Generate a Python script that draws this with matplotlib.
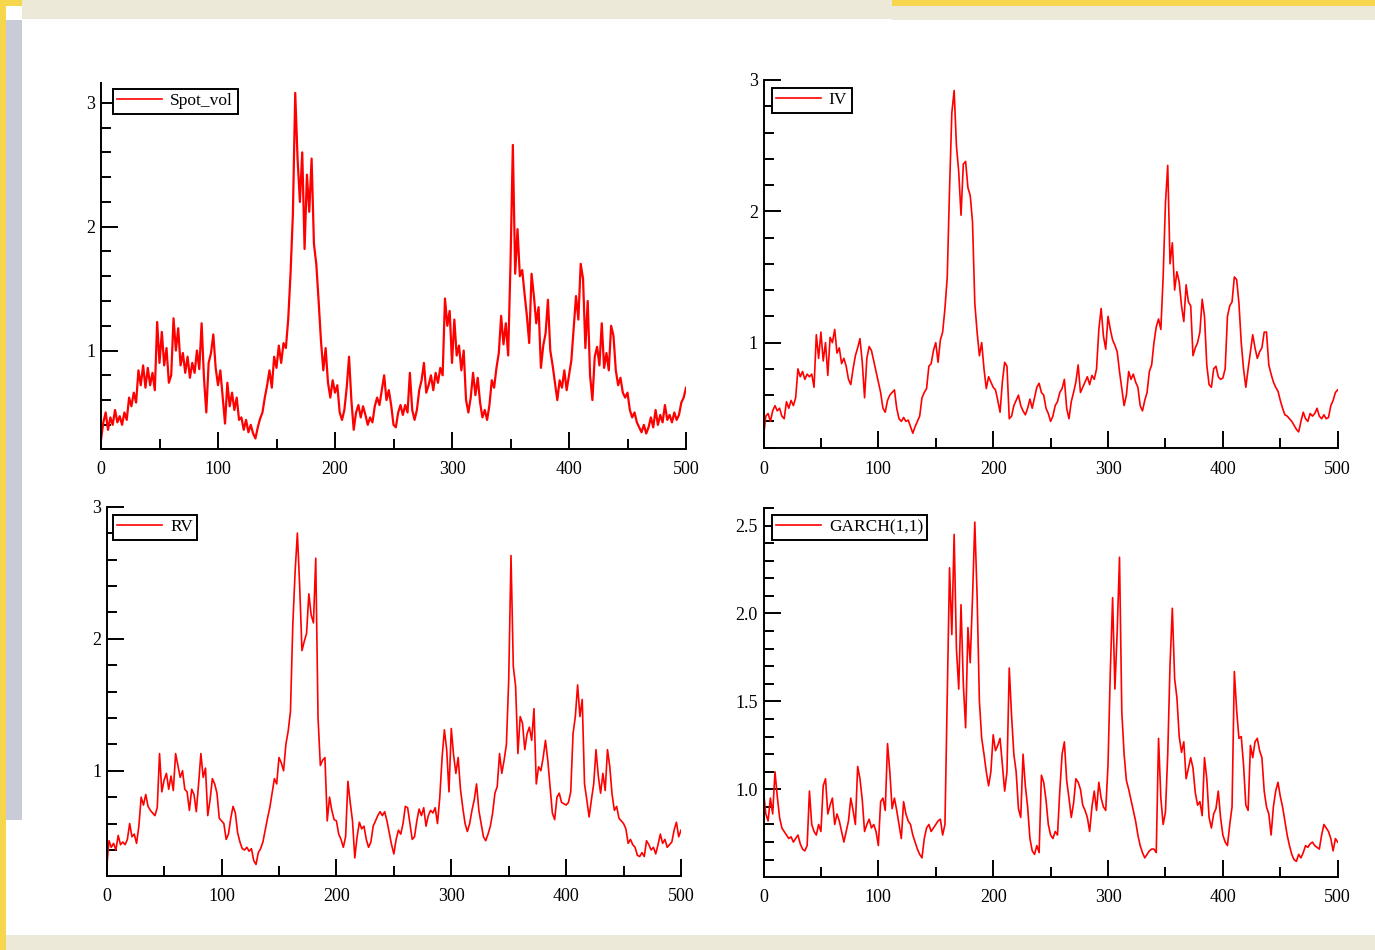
import matplotlib.pyplot as plt
from matplotlib.patches import Rectangle
from matplotlib.ticker import MultipleLocator, FormatStrFormatter

# observation index (every 2nd observation)
obs = list(range(0, 501, 2))

spot_vol = [
    0.28, 0.42, 0.50, 0.36, 0.46, 0.40, 0.52, 0.42, 0.47, 0.40,
    0.50, 0.44, 0.62, 0.55, 0.66, 0.58, 0.84, 0.72, 0.88, 0.70,
    0.86, 0.72, 0.82, 0.68, 1.23, 0.90, 1.15, 0.88, 1.02, 0.74,
    0.80, 1.26, 1.00, 1.18, 0.88, 0.98, 0.82, 0.95, 0.78, 0.90,
    0.82, 1.00, 0.85, 1.22, 0.78, 0.50, 0.90, 0.98, 1.13, 0.86,
    0.72, 0.84, 0.62, 0.41, 0.74, 0.55, 0.66, 0.52, 0.62, 0.44,
    0.46, 0.36, 0.44, 0.34, 0.40, 0.33, 0.29, 0.38, 0.45, 0.50,
    0.62, 0.72, 0.84, 0.70, 0.95, 0.86, 1.04, 0.90, 1.06, 1.02,
    1.25, 1.62, 2.10, 3.08, 2.55, 2.20, 2.60, 1.82, 2.42, 2.12,
    2.55, 1.86, 1.70, 1.40, 1.08, 0.84, 1.02, 0.74, 0.62, 0.76,
    0.66, 0.72, 0.50, 0.44, 0.52, 0.70, 0.95, 0.60, 0.36, 0.50,
    0.56, 0.46, 0.55, 0.48, 0.40, 0.46, 0.42, 0.55, 0.62, 0.56,
    0.68, 0.80, 0.60, 0.68, 0.56, 0.40, 0.38, 0.50, 0.56, 0.48,
    0.56, 0.50, 0.82, 0.52, 0.44, 0.52, 0.68, 0.76, 0.90, 0.66,
    0.72, 0.80, 0.68, 0.82, 0.74, 0.86, 0.80, 1.42, 1.20, 1.32,
    0.90, 1.25, 0.96, 1.04, 0.84, 1.00, 0.60, 0.50, 0.62, 0.82,
    0.64, 0.78, 0.58, 0.46, 0.52, 0.44, 0.56, 0.76, 0.70, 0.86,
    0.98, 1.28, 1.05, 1.22, 0.96, 1.70, 2.66, 1.62, 1.98, 1.60,
    1.65, 1.46, 1.28, 1.06, 1.62, 1.44, 1.22, 1.35, 0.86, 1.04,
    1.14, 1.41, 1.00, 0.88, 0.74, 0.60, 0.76, 0.70, 0.84, 0.68,
    0.80, 0.92, 1.18, 1.44, 1.25, 1.70, 1.58, 1.02, 1.40, 0.80,
    0.60, 0.95, 1.03, 0.88, 1.22, 0.86, 0.98, 0.84, 1.20, 1.12,
    0.84, 0.72, 0.78, 0.66, 0.62, 0.66, 0.52, 0.46, 0.50, 0.42,
    0.38, 0.34, 0.40, 0.33, 0.38, 0.46, 0.38, 0.52, 0.40, 0.48,
    0.42, 0.56, 0.44, 0.48, 0.42, 0.50, 0.44, 0.48, 0.58, 0.62,
    0.70,
]

iv = [
    0.28, 0.44, 0.46, 0.40, 0.48, 0.52, 0.48, 0.50, 0.44, 0.42,
    0.55, 0.50, 0.56, 0.52, 0.58, 0.80, 0.74, 0.78, 0.72, 0.76,
    0.74, 0.76, 0.66, 1.06, 0.88, 1.08, 0.86, 1.00, 0.75, 1.04,
    1.00, 1.10, 0.92, 0.96, 0.84, 0.88, 0.82, 0.72, 0.68, 0.80,
    0.90, 0.96, 1.03, 0.85, 0.58, 0.88, 0.97, 0.94, 0.86, 0.78,
    0.70, 0.62, 0.50, 0.47, 0.56, 0.60, 0.62, 0.64, 0.50, 0.42,
    0.40, 0.43, 0.40, 0.41, 0.36, 0.31, 0.36, 0.40, 0.44, 0.58,
    0.62, 0.65, 0.82, 0.84, 0.94, 1.00, 0.85, 1.02, 1.08, 1.26,
    1.50, 2.17, 2.75, 2.92, 2.50, 2.30, 1.97, 2.36, 2.38, 2.18,
    2.12, 1.92, 1.30, 1.08, 0.90, 1.00, 0.80, 0.65, 0.74, 0.70,
    0.66, 0.64, 0.56, 0.47, 0.70, 0.85, 0.82, 0.42, 0.44, 0.52,
    0.56, 0.60, 0.52, 0.48, 0.45, 0.50, 0.57, 0.50, 0.58, 0.66,
    0.69, 0.62, 0.60, 0.50, 0.46, 0.40, 0.44, 0.52, 0.55, 0.62,
    0.65, 0.72, 0.50, 0.42, 0.55, 0.62, 0.70, 0.83, 0.62, 0.66,
    0.70, 0.74, 0.68, 0.75, 0.72, 0.80, 1.10, 1.26, 1.05, 0.95,
    1.20, 1.10, 1.02, 0.98, 0.93, 0.78, 0.65, 0.52, 0.60, 0.78,
    0.72, 0.76, 0.70, 0.66, 0.52, 0.48, 0.56, 0.62, 0.78, 0.83,
    1.00, 1.12, 1.18, 1.10, 1.50, 2.06, 2.35, 1.60, 1.76, 1.40,
    1.54, 1.46, 1.28, 1.16, 1.44, 1.31, 1.28, 0.90, 0.96, 1.00,
    1.08, 1.33, 1.20, 0.83, 0.68, 0.66, 0.80, 0.82, 0.74, 0.72,
    0.73, 0.80, 1.20, 1.28, 1.31, 1.50, 1.48, 1.30, 1.00, 0.80,
    0.66, 0.80, 0.93, 1.06, 0.96, 0.88, 0.93, 0.96, 1.08, 1.08,
    0.83, 0.76, 0.70, 0.66, 0.63, 0.56, 0.50, 0.45, 0.44, 0.42,
    0.40, 0.37, 0.34, 0.32, 0.40, 0.47, 0.42, 0.40, 0.46, 0.44,
    0.46, 0.50, 0.44, 0.42, 0.45, 0.42, 0.43, 0.52, 0.56, 0.62,
    0.64,
]

rv = [
    0.27, 0.47, 0.42, 0.45, 0.40, 0.51, 0.44, 0.46, 0.44, 0.48,
    0.60, 0.50, 0.52, 0.45, 0.58, 0.80, 0.74, 0.82, 0.73, 0.70,
    0.68, 0.66, 0.72, 1.13, 0.84, 0.93, 0.98, 0.86, 0.96, 0.85,
    1.13, 1.04, 0.95, 1.00, 0.86, 0.84, 0.70, 0.86, 0.82, 0.69,
    0.90, 1.13, 0.95, 1.02, 0.66, 0.78, 0.94, 0.90, 0.83, 0.64,
    0.62, 0.60, 0.48, 0.52, 0.64, 0.73, 0.68, 0.53, 0.46, 0.41,
    0.40, 0.42, 0.39, 0.41, 0.32, 0.29, 0.38, 0.41, 0.46, 0.55,
    0.64, 0.72, 0.83, 0.94, 0.90, 1.10, 1.06, 1.00, 1.20, 1.30,
    1.45, 2.10, 2.50, 2.80, 2.40, 1.91, 1.98, 2.04, 2.34, 2.18,
    2.12, 2.61, 1.40, 1.04, 1.08, 1.10, 0.62, 0.80, 0.70, 0.63,
    0.62, 0.52, 0.48, 0.42, 0.50, 0.92, 0.76, 0.62, 0.34, 0.50,
    0.61, 0.56, 0.58, 0.48, 0.42, 0.46, 0.58, 0.62, 0.66, 0.69,
    0.66, 0.69, 0.62, 0.53, 0.44, 0.37, 0.48, 0.55, 0.52, 0.60,
    0.73, 0.72, 0.60, 0.48, 0.50, 0.62, 0.71, 0.66, 0.72, 0.58,
    0.66, 0.70, 0.68, 0.72, 0.60, 0.80, 1.10, 1.31, 1.16, 0.84,
    1.32, 1.12, 0.98, 1.10, 0.86, 0.72, 0.60, 0.54, 0.60, 0.70,
    0.78, 0.90, 0.70, 0.60, 0.50, 0.47, 0.52, 0.58, 0.68, 0.83,
    0.88, 1.13, 0.98, 1.08, 1.20, 1.69, 2.63, 1.79, 1.64, 1.13,
    1.41, 1.36, 1.16, 1.28, 1.33, 1.23, 1.47, 0.90, 1.03, 1.00,
    1.10, 1.23, 1.08, 0.88, 0.68, 0.63, 0.80, 0.83, 0.76, 0.75,
    0.74, 0.76, 0.84, 1.28, 1.41, 1.65, 1.41, 1.54, 0.90, 0.78,
    0.65, 0.78, 0.90, 1.16, 0.96, 0.83, 0.98, 0.85, 1.16, 1.03,
    0.82, 0.70, 0.73, 0.64, 0.62, 0.60, 0.56, 0.45, 0.48, 0.44,
    0.42, 0.36, 0.35, 0.38, 0.35, 0.47, 0.44, 0.40, 0.42, 0.37,
    0.44, 0.52, 0.45, 0.48, 0.42, 0.44, 0.46, 0.55, 0.61, 0.50,
    0.55,
]

garch = [
    0.99, 0.86, 0.82, 0.95, 0.86, 1.10, 0.96, 0.84, 0.78, 0.76,
    0.74, 0.72, 0.73, 0.70, 0.72, 0.74, 0.69, 0.66, 0.65, 0.68,
    0.99, 0.80, 0.76, 0.74, 0.80, 0.76, 1.02, 1.06, 0.86, 0.91,
    0.95, 0.80, 0.86, 0.82, 0.76, 0.70, 0.76, 0.82, 0.95, 0.88,
    0.80, 1.13, 1.06, 0.94, 0.76, 0.80, 0.83, 0.78, 0.80, 0.76,
    0.68, 0.93, 0.95, 0.88, 1.26, 1.10, 0.89, 0.95, 0.88, 0.80,
    0.72, 0.93, 0.86, 0.82, 0.80, 0.74, 0.70, 0.66, 0.63, 0.61,
    0.72, 0.78, 0.80, 0.76, 0.78, 0.80, 0.82, 0.83, 0.74, 0.80,
    1.52, 2.26, 1.88, 2.45, 1.80, 1.57, 2.05, 1.60, 1.35, 1.92,
    1.72, 2.09, 2.52, 2.10, 1.50, 1.29, 1.20, 1.10, 1.02, 1.10,
    1.31, 1.22, 1.25, 1.29, 1.14, 0.99, 1.10, 1.69, 1.42, 1.20,
    1.10, 0.89, 0.84, 1.20, 1.02, 0.90, 0.72, 0.65, 0.63, 0.68,
    0.64, 1.08, 1.04, 0.94, 0.80, 0.74, 0.72, 0.76, 0.74, 0.99,
    1.20, 1.27, 1.05, 0.95, 0.84, 0.92, 1.06, 1.04, 1.00, 0.91,
    0.88, 0.84, 0.76, 0.90, 0.99, 0.88, 1.04, 0.95, 0.90, 0.88,
    1.14, 1.67, 2.09, 1.57, 1.90, 2.32, 1.44, 1.20, 1.05, 1.00,
    0.94, 0.88, 0.82, 0.74, 0.68, 0.64, 0.61, 0.63, 0.65, 0.66,
    0.66, 0.64, 1.29, 0.95, 0.80, 0.87, 1.20, 1.71, 2.03, 1.63,
    1.52, 1.30, 1.21, 1.27, 1.06, 1.12, 1.18, 1.12, 0.98, 0.91,
    0.93, 0.85, 1.18, 1.06, 0.84, 0.78, 0.86, 0.89, 0.99, 0.84,
    0.74, 0.70, 0.68, 0.80, 0.90, 1.67, 1.45, 1.29, 1.30, 1.14,
    0.91, 0.88, 1.25, 1.18, 1.27, 1.29, 1.22, 1.18, 0.99, 0.90,
    0.86, 0.74, 0.90, 0.99, 1.04, 0.96, 0.90, 0.82, 0.74, 0.68,
    0.63, 0.60, 0.59, 0.63, 0.61, 0.64, 0.68, 0.67, 0.69, 0.70,
    0.68, 0.67, 0.66, 0.74, 0.80, 0.78, 0.76, 0.72, 0.65, 0.72,
    0.70,
]

W, H = 1375, 950
plt.rcParams['font.family'] = ['Liberation Serif', 'DejaVu Serif']

fig = plt.figure(figsize=(W / 100, H / 100), dpi=100)
fig.patch.set_facecolor('white')


def px_rect(x, y, w, h, color):
    # rectangle given in pixels from the top-left corner
    fig.add_artist(Rectangle((x / W, 1 - (y + h) / H), w / W, h / H,
                             transform=fig.transFigure, color=color, lw=0, zorder=0))


# window frame around the graphics area
px_rect(0, 0, W, 6, '#F5D64C')
px_rect(0, 0, 6, H, '#F5D64C')
px_rect(22, 0, 870, 19, '#ECE9D8')
px_rect(892, 6, W - 892, 14, '#ECE9D8')
px_rect(6, 20, 16, 800, '#C9CCD6')
px_rect(6, 935, W - 6, 15, '#ECE9D8')


def panel(box, ylim, x, y, label, leg_off, ymajor, yminor, yfmt, lw=1.2):
    left, top, right, bottom = box
    ax = fig.add_axes([left / W, 1 - bottom / H, (right - left) / W, (bottom - top) / H])
    ax.plot(x, y, color='#FF0000', lw=lw, label=label)
    ax.set_xlim(0, 500)
    ax.set_ylim(*ylim)
    ax.xaxis.set_major_locator(MultipleLocator(100))
    ax.xaxis.set_minor_locator(MultipleLocator(50))
    ax.yaxis.set_major_locator(MultipleLocator(ymajor))
    ax.yaxis.set_minor_locator(MultipleLocator(yminor))
    ax.yaxis.set_major_formatter(FormatStrFormatter(yfmt))
    for s in ('top', 'right'):
        ax.spines[s].set_visible(False)
    for s in ('left', 'bottom'):
        ax.spines[s].set_linewidth(1.4)
    ax.tick_params(which='both', direction='in', width=1.4, colors='black', labelsize=13)
    ax.tick_params(which='major', length=12)
    ax.tick_params(which='minor', length=7)
    ax.tick_params(axis='x', pad=9)
    ax.tick_params(axis='y', pad=4)
    ax.set_facecolor('none')
    w, h = right - left, bottom - top
    leg = ax.legend(loc='upper left', bbox_to_anchor=(leg_off[0] / w, 1 - leg_off[1] / h),
                    borderaxespad=0, fancybox=False, framealpha=1, edgecolor='black',
                    fontsize=12.5, handlelength=2.6, handletextpad=0.45,
                    borderpad=0.25)
    leg.get_frame().set_linewidth(1.4)
    for ln in leg.get_lines():
        ln.set_linewidth(1.2)
    return ax


panel((101, 83, 686, 449), (0.205, 3.16), obs, spot_vol, 'Spot_vol', (12, 6), 1, 0.2, '%g', lw=1.6)
panel((763.5, 80, 1337.7, 448.3), (0.195, 3.0), obs, iv, 'IV', (8, 8), 1, 0.2, '%g')
panel((106.7, 506.7, 681, 875.7), (0.205, 3.0), obs, rv, 'RV', (6, 8), 1, 0.2, '%g')
panel((763.5, 508, 1337.7, 876.7), (0.503, 2.6), obs, garch, 'GARCH(1,1)', (8, 7), 0.5, 0.1, '%.1f')

fig.savefig('out.png', dpi=100)
